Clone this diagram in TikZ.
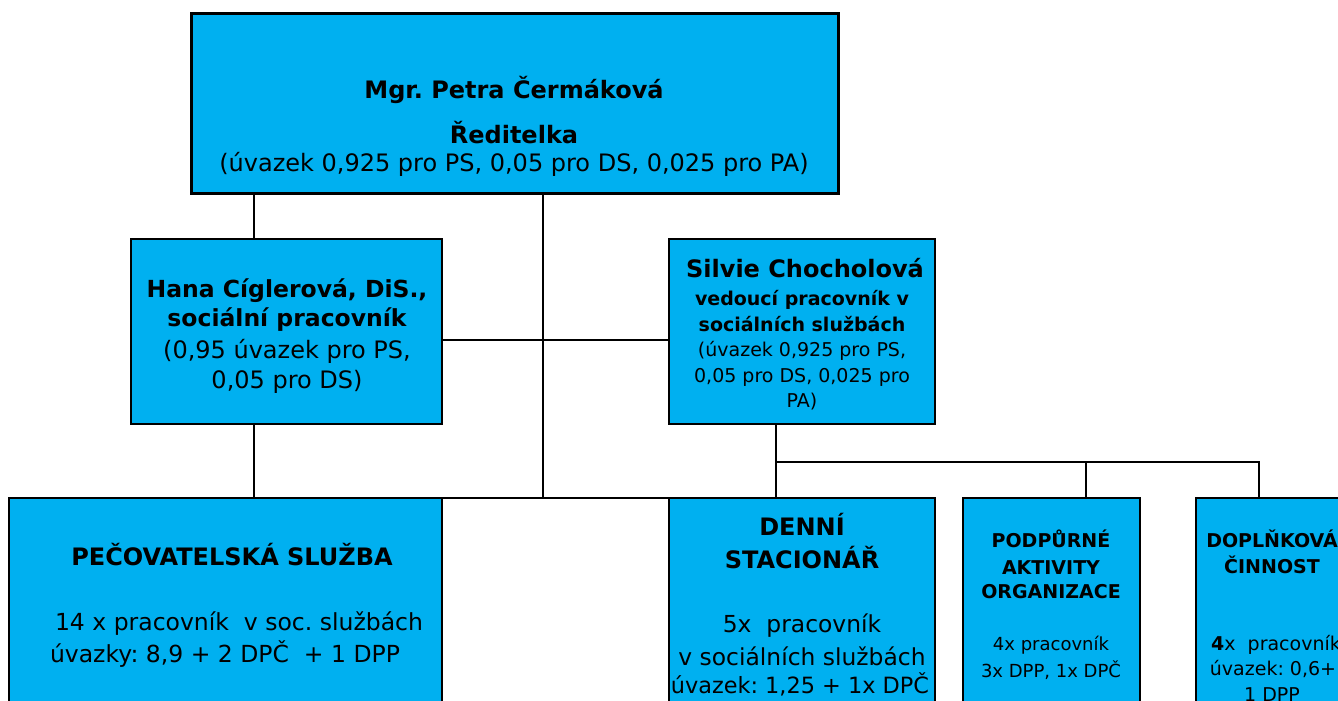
\documentclass[tikz,border=0pt]{standalone}
\usepackage{fontspec}
\setmainfont{DejaVu Sans}
\definecolor{boxblue}{HTML}{00B0F0}
\newcommand\myfs[1]{\fontsize{#1}{#1}\selectfont}
\frenchspacing
\begin{document}
\begin{tikzpicture}[x=1pt,y=-1pt,
  box/.style={draw=black,line width=1.8pt,fill=boxblue,rectangle,anchor=north west,inner sep=0pt,outer sep=0pt},
  conn/.style={draw=black,line width=1.8pt},
  tl/.style={anchor=base,inner sep=0pt,outer sep=0pt}]
\useasboundingbox (0,0) rectangle (1338,701);
\fill[white] (0,0) rectangle (1338,701);
\clip (0,0) rectangle (1338,701);
% boxes
\node[box,line width=3pt,minimum width=647pt,minimum height=179pt] (top) at (191,14) {};
\node[box,minimum width=311pt,minimum height=185pt] (hana) at (131,239) {};
\node[box,minimum width=266pt,minimum height=185pt] (silvie) at (669,239) {};
\node[box,minimum width=433pt,minimum height=240pt] (ps) at (9,498) {};
\node[box,minimum width=266pt,minimum height=240pt] (denni) at (669,498) {};
\node[box,minimum width=177pt,minimum height=240pt] (podp) at (963,498) {};
\node[box,minimum width=180pt,minimum height=240pt] (dopl) at (1196,498) {};
% helper coordinates
\coordinate (xa) at (254,0);
\coordinate (xb) at (543,0);
\coordinate (xc) at (776,0);
\coordinate (xd) at (1086,0);
\coordinate (xe) at (1259,0);
\coordinate (ya) at (0,340);
\coordinate (yb) at (0,462);
% connectors
\draw[conn] (top.south -| xa) -- (hana.north -| xa);
\draw[conn] (top.south -| xb) -- (ps.north -| xb);
\draw[conn] (hana.east |- ya) -- (silvie.west |- ya);
\draw[conn] (hana.south -| xa) -- (ps.north -| xa);
\draw[conn,line width=2.6pt] (ps.north east) -- (denni.north west);
\draw[conn] (silvie.south -| xc) -- (denni.north -| xc);
\draw[conn] (xc |- yb) -- (xe |- yb) -- (dopl.north -| xe);
\draw[conn] (xd |- yb) -- (podp.north -| xd);
% texts: top
\node[tl,font=\myfs{24}\bfseries] (t1) at (514,99) {Mgr. Petra Čermáková};
\node[tl,font=\myfs{24}\bfseries] (t2) at (514,143) {Ředitelka};
\node[tl,font=\myfs{24}] (t3) at (514,171) {(úvazek 0,925 pro PS, 0,05 pro DS, 0,025 pro PA)};
% hana
\node[tl,font=\myfs{23.5}\bfseries] (h1) at (287,297) {Hana Cíglerová, DiS.,};
\node[tl,font=\myfs{23.5}\bfseries] (h2) at (287,326) {sociální pracovník};
\node[tl,font=\myfs{24}] (h3) at (287,358) {(0,95 úvazek pro PS,};
\node[tl,font=\myfs{24}] (h4) at (287,388) {0,05 pro DS)};
% silvie
\node[tl,font=\myfs{24}\bfseries] (s1) at (805,277) {Silvie Chocholová};
\node[tl,font=\myfs{19}\bfseries] (s2) at (802,305) {vedoucí pracovník v};
\node[tl,font=\myfs{19}\bfseries] (s3) at (802,331) {sociálních službách};
\node[tl,font=\myfs{19}] (s4) at (802,356) {(úvazek 0,925 pro PS,};
\node[tl,font=\myfs{19}] (s5) at (802,382) {0,05 pro DS, 0,025 pro};
\node[tl,font=\myfs{19}] (s6) at (802,407) {PA)};
% ps
\node[tl,font=\myfs{24}\bfseries] (p1) at (232,565) {PEČOVATELSKÁ SLUŽBA};
\node[tl,font=\myfs{23.5}] (p2) at (239,630) {14 x pracovník\ \ v soc. službách};
\node[tl,font=\myfs{23.5}] (p3) at (225,662) {úvazky: 8,9 + 2 DPČ\ \ + 1 DPP};
% denni
\node[tl,font=\myfs{24}\bfseries] (d1) at (802,535) {DENNÍ};
\node[tl,font=\myfs{24}\bfseries] (d2) at (802,568) {STACIONÁŘ};
\node[tl,font=\myfs{23.4}] (d3) at (802,632) {5x\ \ pracovník};
\node[tl,font=\myfs{23.4}] (d4) at (802,665) {v sociálních službách};
\node[tl,font=\myfs{22.4}] (d5) at (800,693) {úvazek: 1,25 + 1x DPČ};
% podp
\node[tl,font=\myfs{19}\bfseries] (a1) at (1051,547) {PODPŮRNÉ};
\node[tl,font=\myfs{19}\bfseries] (a2) at (1051,574) {AKTIVITY};
\node[tl,font=\myfs{19}\bfseries] (a3) at (1051,598) {ORGANIZACE};
\node[tl,font=\myfs{18}] (a4) at (1051,650) {4x pracovník};
\node[tl,font=\myfs{18}] (a5) at (1051,677) {3x DPP, 1x DPČ};
% dopl
\node[tl,font=\myfs{19}\bfseries] (b1) at (1272,547) {DOPLŇKOVÁ};
\node[tl,font=\myfs{19}\bfseries] (b2) at (1272,573) {ČINNOST};
\node[tl,font=\myfs{19}] (b3) at (1276,650) {\textbf{4}x\ \ pracovník};
\node[tl,font=\myfs{19}] (b4) at (1273,675) {úvazek: 0,6+};
\node[tl,font=\myfs{19}] (b5) at (1272,701) {1 DPP};
\end{tikzpicture}
\end{document}
